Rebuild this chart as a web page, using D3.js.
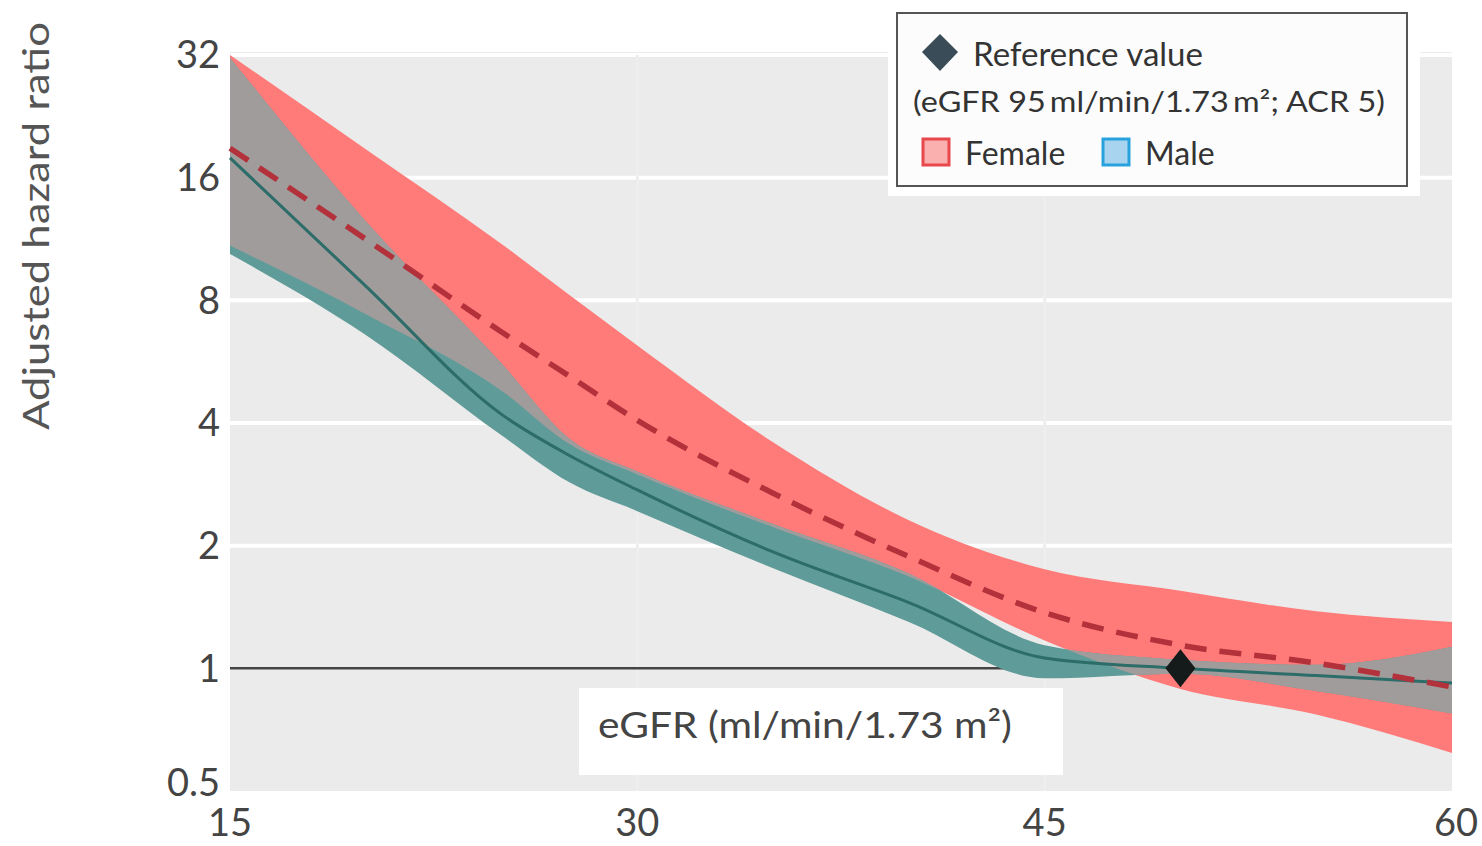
<!DOCTYPE html>
<meta charset="utf-8">
<style>
    body { margin: 0; background: #fff; }
    text { font-family: Lato, "Open Sans", sans-serif; }
</style>
<body>
<svg width="1482" height="846"></svg>
<script src="https://d3js.org/d3.v7.min.js"></script>
<script>
// eGFR knots (ml/min/1.73 m2)
var egfr = [15, 20, 25, 27.5, 30, 35, 40, 45, 50, 55, 60];

// female: estimate, lower and upper CI
var femaleHR    = [18.9, 11.3, 6.69, 5.21, 4.06, 2.69, 1.88, 1.37, 1.14, 1.03, 0.90];
var femaleLower = [10.9, 7.4, 4.8, 3.55, 2.99, 2.22, 1.68, 1.17, 0.89, 0.77, 0.62];
var femaleUpper = [32.0, 18.8, 11.0, 8.24, 6.20, 3.59, 2.31, 1.75, 1.55, 1.38, 1.30];

// male: estimate, lower and upper CI
var maleHR    = [17.9, 8.67, 4.20, 3.33, 2.74, 1.93, 1.45, 1.06, 1.00, 0.96, 0.92];
var maleLower = [10.4, 6.58, 3.73, 2.86, 2.43, 1.76, 1.30, 0.945, 0.97, 0.88, 0.775];
var maleUpper = [31.5, 12.5, 5.6, 3.66, 3.04, 2.26, 1.71, 1.14, 1.05, 1.02, 1.13];

var xTicks = [15, 30, 45, 60];
var yTicks = [0.5, 1, 2, 4, 8, 16, 32];
var refPoint = { egfr: 50, hr: 1 };

var svg = d3.select("svg"),
    margin = { left: 230, right: 30, top: 55, bottom: 55 },
    W = +svg.attr("width"), H = +svg.attr("height");

var x = d3.scaleLinear().domain([15, 60]).range([margin.left, W - margin.right]);
var y = d3.scaleLog().base(2).domain([0.5, 32]).range([H - margin.bottom, margin.top]);

var female = egfr.map(function (e, i) { return { e: e, hr: femaleHR[i], lo: femaleLower[i], hi: femaleUpper[i] }; });
var male = egfr.map(function (e, i) { return { e: e, hr: maleHR[i], lo: maleLower[i], hi: maleUpper[i] }; });

// panel
svg.append("rect")
    .attr("x", x(15)).attr("y", y(32) - 3)
    .attr("width", x(60) - x(15)).attr("height", y(0.5) - y(32) + 3)
    .attr("fill", "#ebebeb");

// grid
svg.append("g").selectAll("line").data(yTicks.filter(function (d) { return d !== 1 && d !== 0.5; }))
    .join("line")
    .attr("x1", x(15)).attr("x2", x(60))
    .attr("y1", function (d) { return y(d); }).attr("y2", function (d) { return y(d); })
    .attr("stroke", "#fff").attr("stroke-width", 4);

svg.append("g").selectAll("line").data([30, 45])
    .join("line")
    .attr("x1", function (d) { return x(d); }).attr("x2", function (d) { return x(d); })
    .attr("y1", y(32)).attr("y2", y(0.5))
    .attr("stroke", "#eeeeee").attr("stroke-width", 3);

// reference line at HR = 1
svg.append("line")
    .attr("x1", x(15)).attr("x2", x(60))
    .attr("y1", y(1)).attr("y2", y(1))
    .attr("stroke", "#444").attr("stroke-width", 2.5);

var band = d3.area()
    .curve(d3.curveMonotoneX)
    .x(function (d) { return x(d.e); })
    .y0(function (d) { return y(d.lo); })
    .y1(function (d) { return y(d.hi); });

var line = d3.line()
    .curve(d3.curveMonotoneX)
    .x(function (d) { return x(d.e); })
    .y(function (d) { return y(d.hr); });

svg.append("defs").append("clipPath")
    .attr("id", "femclip")
    .append("path")
    .attr("d", band(female));

svg.append("path").attr("d", band(female)).attr("fill", "#ff7b79");
svg.append("path").attr("d", band(male)).attr("fill", "#5f9b98");
// overlap of the two bands
svg.append("path").attr("d", band(male)).attr("fill", "#a09c9c")
    .attr("clip-path", "url(#femclip)");

svg.append("path").attr("d", line(male))
    .attr("fill", "none").attr("stroke", "#2c6c69").attr("stroke-width", 3);

svg.append("path").attr("d", line(female))
    .attr("fill", "none").attr("stroke", "#b3313b").attr("stroke-width", 5.5)
    .attr("stroke-dasharray", "22,13");

// reference diamond
svg.append("path")
    .attr("transform", "translate(" + x(refPoint.egfr) + "," + y(refPoint.hr) + ")")
    .attr("d", "M0,-19L15,0L0,19L-15,0Z")
    .attr("fill", "#151a1a");

// x-axis label box
svg.append("rect")
    .attr("x", 579).attr("y", 688).attr("width", 484).attr("height", 87)
    .attr("fill", "#fff");
svg.append("text")
    .attr("x", 598).attr("y", 738)
    .attr("font-size", 36).attr("fill", "#444")
    .attr("textLength", 414).attr("lengthAdjust", "spacingAndGlyphs")
    .text("eGFR (ml/min/1.73 m\u00b2)");

// y ticks
svg.append("g").selectAll("text").data(yTicks)
    .join("text")
    .attr("x", 220)
    .attr("y", function (d) { return d === 0.5 ? y(d) - 8 : y(d); })
    .attr("dy", "0.35em")
    .attr("text-anchor", "end")
    .attr("font-size", 38).attr("fill", "#444")
    .text(function (d) { return d; });

// x ticks
svg.append("g").selectAll("text").data(xTicks)
    .join("text")
    .attr("x", function (d) { return d === 60 ? x(d) + 4 : x(d); })
    .attr("y", 836)
    .attr("text-anchor", "middle")
    .attr("font-size", 38).attr("fill", "#444")
    .text(function (d) { return d; });

// y title
svg.append("text")
    .attr("transform", "translate(49,226) rotate(-90)")
    .attr("text-anchor", "middle")
    .attr("font-size", 36).attr("fill", "#555")
    .attr("textLength", 408).attr("lengthAdjust", "spacingAndGlyphs")
    .text("Adjusted hazard ratio");

// legend
var lg = svg.append("g");
lg.append("rect").attr("x", 888).attr("y", 4).attr("width", 532).attr("height", 192).attr("fill", "#fff");
lg.append("rect").attr("x", 897).attr("y", 13).attr("width", 510).attr("height", 173)
    .attr("fill", "#fcfcfc").attr("stroke", "#555").attr("stroke-width", 2);
lg.append("path").attr("d", "M940,34L958,52L940,71L922,52Z").attr("fill", "#3b4c59");
lg.append("text").attr("x", 973).attr("y", 66).attr("font-size", 32).attr("fill", "#333")
    .attr("textLength", 230).attr("lengthAdjust", "spacingAndGlyphs")
    .text("Reference value");
lg.append("text").attr("x", 913).attr("y", 112).attr("font-size", 28).attr("fill", "#333")
    .attr("textLength", 472).attr("lengthAdjust", "spacingAndGlyphs")
    .text("(eGFR 95\u2009ml/min/1.73\u2009m\u00b2; ACR 5)");
lg.append("rect").attr("x", 923).attr("y", 139).attr("width", 26).attr("height", 26)
    .attr("fill", "#f9b0ae").attr("stroke", "#e8474c").attr("stroke-width", 3);
lg.append("text").attr("x", 965).attr("y", 165).attr("font-size", 32).attr("fill", "#333").text("Female");
lg.append("rect").attr("x", 1103).attr("y", 139).attr("width", 26).attr("height", 26)
    .attr("fill", "#a8d4ef").attr("stroke", "#27a2dc").attr("stroke-width", 3);
lg.append("text").attr("x", 1145).attr("y", 165).attr("font-size", 32).attr("fill", "#333").text("Male");
</script>
</body>
